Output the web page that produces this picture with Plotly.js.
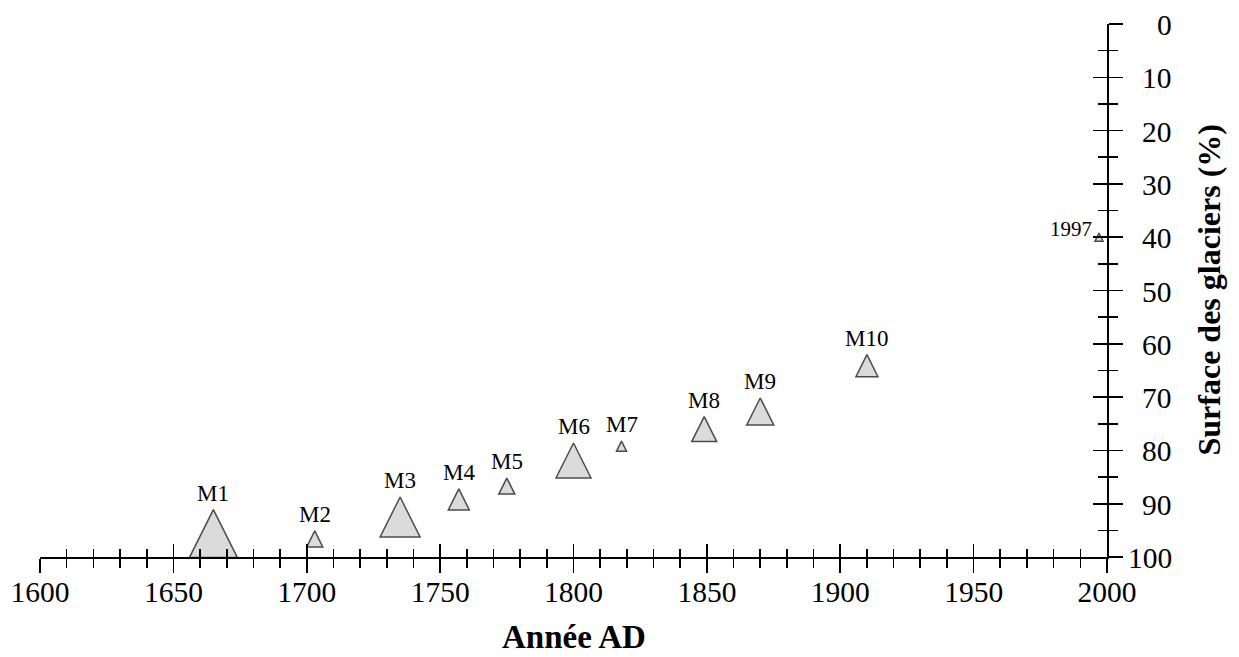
<!DOCTYPE html>
<html>
<head>
<meta charset="utf-8">
<script src="https://cdn.plot.ly/plotly-3.0.1.min.js"></script>
<style>html,body{margin:0;padding:0;background:#fff;}</style>
</head>
<body>
<div id="chart" style="width:1239px;height:657px;"></div>
<script>
// ---- data ----
const siteLabels = ['M1', 'M2', 'M3', 'M4', 'M5', 'M6', 'M7', 'M8', 'M9', 'M10', '1997'];
const years = [1665, 1703, 1735, 1757, 1775, 1800, 1818, 1849, 1870, 1910, 1997];
const glacierSurface = [95.6, 96.6, 92.5, 89.2, 86.7, 81.9, 79.2, 76.0, 72.7, 64.1, 40.0];
const yearRange = [1600, 2000];
const surfaceRange = [100, 0];
const yTickVals = [0, 10, 20, 30, 40, 50, 60, 70, 80, 90, 100];
const xTitle = 'Année AD';
const yTitle = 'Surface des glaciers (%)';

// ---- style ----
const markerSizePx = [48, 16, 40, 21, 16, 35, 10, 25, 27, 22, 8];
const labelSide = ['top', 'top', 'top', 'top', 'top', 'top', 'top', 'top', 'top', 'top', 'left'];
const SERIF = 'Liberation Serif';
const LW = 1.6;

const triangles = {
  type: 'scatter', mode: 'markers',
  x: years, y: glacierSurface,
  cliponaxis: false, hoverinfo: 'skip', showlegend: false,
  marker: {
    symbol: 'arrow-down', angle: 180,
    standoff: markerSizePx.map(s => s / 2),
    size: markerSizePx,
    color: '#cccccc',
    line: {color: '#000000', width: 1.5}
  }
};
const dummy = {type: 'scatter', mode: 'markers', x: [yearRange[0]], y: [surfaceRange[0]], xaxis: 'x2', yaxis: 'y2',
  showlegend: false, hoverinfo: 'skip', marker: {opacity: 0}};

const pointLabels = siteLabels.map((t, i) => {
  const s = markerSizePx[i];
  if (labelSide[i] === 'left') {
    return {x: years[i], y: glacierSurface[i], xref: 'x', yref: 'y', text: t, showarrow: false,
      xanchor: 'right', yanchor: 'middle', xshift: -(s / 2 + 1), yshift: 8,
      font: {family: SERIF, size: 21, color: '#000'}};
  }
  return {x: years[i], y: glacierSurface[i], xref: 'x', yref: 'y', text: t, showarrow: false,
    xanchor: 'center', yanchor: 'bottom', yshift: s / 2 + 2,
    font: {family: SERIF, size: 23, color: '#000'}};
});

const tickFont = {family: SERIF, size: 29.5, color: '#000'};

// right-aligned y tick labels
const yTickLabels = yTickVals.map(v => ({
  x: 1, xref: 'paper', y: v, yref: 'y', text: String(v), showarrow: false,
  xanchor: 'right', yanchor: 'middle', xshift: 67, yshift: -1,
  font: tickFont
}));

const titles = [
  {x: 0.5, xref: 'paper', y: 0, yref: 'paper', text: '<b>' + xTitle + '</b>', showarrow: false,
    xanchor: 'center', yanchor: 'middle', yshift: -80, font: {family: SERIF, size: 33, color: '#000'}},
  {x: 1, xref: 'paper', y: 0.5, yref: 'paper', text: '<b>' + yTitle + '</b>', showarrow: false, textangle: -90,
    xanchor: 'center', yanchor: 'middle', xshift: 101, font: {family: SERIF, size: 32, color: '#000'}}
];

const minorX = (dir, len) => ({tickmode: 'linear', tick0: 1600, dtick: 10, ticks: dir, ticklen: len, tickwidth: LW, tickcolor: '#000', showgrid: false});
const minorY = (dir, len) => ({tickmode: 'linear', tick0: 0, dtick: 5, ticks: dir, ticklen: len, tickwidth: LW, tickcolor: '#000', showgrid: false});

const layout = {
  width: 1239, height: 657,
  margin: {l: 40, r: 132, t: 24, b: 100, pad: 0},
  paper_bgcolor: '#ffffff', plot_bgcolor: '#ffffff',
  showlegend: false,
  font: {family: SERIF, color: '#000'},
  xaxis: {
    range: yearRange, tickmode: 'linear', tick0: 1600, dtick: 50,
    showline: true, linecolor: '#000', linewidth: LW,
    ticks: 'outside', ticklen: 14, tickwidth: LW, tickcolor: '#000',
    minor: minorX('outside', 9),
    showgrid: false, zeroline: false, automargin: false,
    tickfont: tickFont, ticklabelstandoff: -6
  },
  xaxis2: {
    overlaying: 'x', anchor: 'y2', side: 'bottom',
    range: yearRange, tickmode: 'linear', tick0: 1600, dtick: 50,
    showline: false, showticklabels: false,
    ticks: 'inside', ticklen: 13, tickwidth: LW, tickcolor: '#000',
    minor: minorX('inside', 8),
    showgrid: false, zeroline: false, automargin: false
  },
  yaxis: {
    range: surfaceRange, side: 'right', tickmode: 'linear', tick0: 0, dtick: 10,
    showticklabels: false,
    showline: true, linecolor: '#000', linewidth: LW,
    ticks: 'outside', ticklen: 14, tickwidth: LW, tickcolor: '#000',
    minor: minorY('outside', 9),
    showgrid: false, zeroline: false, automargin: false
  },
  yaxis2: {
    overlaying: 'y', anchor: 'x2', side: 'right',
    range: surfaceRange, tickmode: 'linear', tick0: 0, dtick: 10,
    showline: false, showticklabels: false,
    ticks: 'inside', ticklen: 14, tickwidth: LW, tickcolor: '#000',
    minor: minorY('inside', 9),
    showgrid: false, zeroline: false, automargin: false
  },
  annotations: pointLabels.concat(yTickLabels, titles)
};

Plotly.newPlot('chart', [triangles, dummy], layout, {displayModeBar: false, staticPlot: true});
</script>
</body>
</html>
